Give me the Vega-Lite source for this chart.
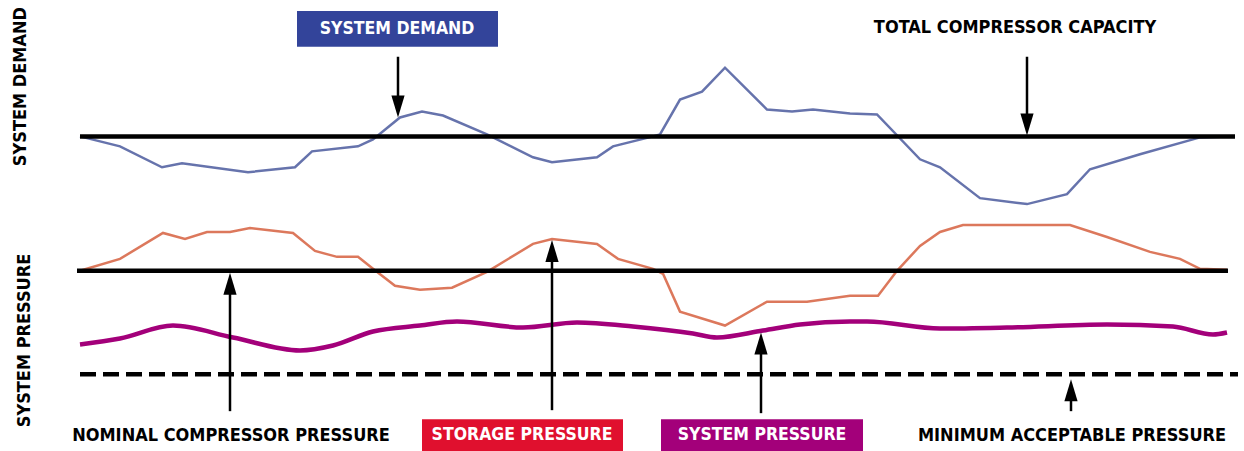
{
  "$schema": "https://vega.github.io/schema/vega-lite/v6.json",
  "autosize": {"type": "fit", "contains": "padding"},
  "width": 1244,
  "height": 451,
  "padding": 0,
  "background": "white",
  "config": {"view": {"stroke": null}},
  "datasets": {
    "demand": [
      {"x": 80, "y": 137}, {"x": 120, "y": 147}, {"x": 162, "y": 168}, {"x": 182, "y": 164}, {"x": 248, "y": 173},
      {"x": 295, "y": 168}, {"x": 312, "y": 152}, {"x": 358, "y": 147}, {"x": 373, "y": 140}, {"x": 400, "y": 118},
      {"x": 422, "y": 112}, {"x": 443, "y": 116}, {"x": 487, "y": 135}, {"x": 533, "y": 158}, {"x": 552, "y": 163},
      {"x": 597, "y": 158}, {"x": 613, "y": 147}, {"x": 653, "y": 137}, {"x": 660, "y": 135}, {"x": 680, "y": 100},
      {"x": 702, "y": 92}, {"x": 725, "y": 68}, {"x": 767, "y": 110}, {"x": 792, "y": 112}, {"x": 813, "y": 110},
      {"x": 850, "y": 114}, {"x": 877, "y": 115}, {"x": 920, "y": 160}, {"x": 940, "y": 168}, {"x": 980, "y": 199},
      {"x": 1027, "y": 205}, {"x": 1067, "y": 195}, {"x": 1090, "y": 170}, {"x": 1140, "y": 155}, {"x": 1200, "y": 138},
      {"x": 1227, "y": 137}
    ],
    "storage": [
      {"x": 80, "y": 272}, {"x": 120, "y": 260}, {"x": 163, "y": 234}, {"x": 185, "y": 240}, {"x": 207, "y": 233},
      {"x": 230, "y": 233}, {"x": 250, "y": 229}, {"x": 293, "y": 234}, {"x": 315, "y": 252}, {"x": 337, "y": 258},
      {"x": 358, "y": 258}, {"x": 373, "y": 270}, {"x": 395, "y": 287}, {"x": 420, "y": 291}, {"x": 452, "y": 289},
      {"x": 487, "y": 273}, {"x": 533, "y": 245}, {"x": 552, "y": 240}, {"x": 597, "y": 245}, {"x": 618, "y": 260},
      {"x": 653, "y": 270}, {"x": 663, "y": 275}, {"x": 680, "y": 313}, {"x": 725, "y": 327}, {"x": 767, "y": 303},
      {"x": 807, "y": 303}, {"x": 850, "y": 297}, {"x": 878, "y": 297}, {"x": 897, "y": 272}, {"x": 920, "y": 247},
      {"x": 940, "y": 233}, {"x": 963, "y": 226}, {"x": 1070, "y": 226}, {"x": 1107, "y": 238}, {"x": 1150, "y": 253},
      {"x": 1180, "y": 260}, {"x": 1200, "y": 270}, {"x": 1227, "y": 271}
    ],
    "syspressure": [
      {"x": 80, "y": 346}, {"x": 120, "y": 340}, {"x": 173, "y": 327}, {"x": 233, "y": 339}, {"x": 300, "y": 352},
      {"x": 333, "y": 347}, {"x": 373, "y": 333}, {"x": 420, "y": 327}, {"x": 457, "y": 323}, {"x": 523, "y": 329},
      {"x": 577, "y": 324}, {"x": 633, "y": 328}, {"x": 693, "y": 335}, {"x": 717, "y": 339}, {"x": 763, "y": 332},
      {"x": 800, "y": 326}, {"x": 850, "y": 323}, {"x": 867, "y": 323}, {"x": 940, "y": 330}, {"x": 1007, "y": 329},
      {"x": 1107, "y": 326}, {"x": 1173, "y": 328}, {"x": 1213, "y": 336}, {"x": 1227, "y": 334}
    ],
    "solidlines": [
      {"x": 80, "x2": 1235, "y": 137},
      {"x": 77, "x2": 1228, "y": 272}
    ],
    "dashline": [
      {"x": 80, "x2": 1238, "y": 376}
    ],
    "shafts": [
      {"x": 398, "y": 57, "y2": 110},
      {"x": 1027, "y": 57, "y2": 128},
      {"x": 230, "y": 285, "y2": 413},
      {"x": 552, "y": 252, "y2": 412},
      {"x": 761, "y": 345, "y2": 415},
      {"x": 1071, "y": 392, "y2": 413}
    ],
    "headsdown": [
      {"x": 398, "y": 107},
      {"x": 1027, "y": 125}
    ],
    "headsup": [
      {"x": 230, "y": 285},
      {"x": 552, "y": 252},
      {"x": 761, "y": 345},
      {"x": 1071, "y": 392}
    ],
    "boxes": [
      {"x": 297, "x2": 498, "y": 11, "y2": 47, "kind": "demand", "label": "SYSTEM DEMAND", "cx": 397, "cy": 29},
      {"x": 422, "x2": 623, "y": 421, "y2": 453, "kind": "storage", "label": "STORAGE PRESSURE", "cx": 522, "cy": 437},
      {"x": 661, "x2": 863, "y": 421, "y2": 453, "kind": "system", "label": "SYSTEM PRESSURE", "cx": 762, "cy": 437}
    ],
    "captions": [
      {"x": 1015, "y": 28, "label": "TOTAL COMPRESSOR CAPACITY"},
      {"x": 231, "y": 438, "label": "NOMINAL COMPRESSOR PRESSURE"},
      {"x": 1072, "y": 438, "label": "MINIMUM ACCEPTABLE PRESSURE"}
    ],
    "sidelabels": [
      {"x": 21, "y": 87, "label": "SYSTEM DEMAND"},
      {"x": 25, "y": 342, "label": "SYSTEM PRESSURE"}
    ]
  },
  "encoding": {
    "x": {"field": "x", "type": "quantitative", "scale": {"domain": [0, 1244], "nice": false, "zero": false}, "axis": null},
    "y": {"field": "y", "type": "quantitative", "scale": {"domain": [0, 451], "nice": false, "zero": false, "reverse": true}, "axis": null}
  },
  "layer": [
    {
      "data": {"name": "boxes"},
      "mark": {"type": "rect"},
      "encoding": {
        "x2": {"field": "x2"},
        "y2": {"field": "y2"},
        "color": {"field": "kind", "type": "nominal", "legend": null,
          "scale": {"domain": ["demand", "storage", "system"], "range": ["#33449a", "#e0102e", "#a3007a"]}}
      }
    },
    {
      "data": {"name": "boxes"},
      "mark": {"type": "text", "color": "white", "font": "DejaVu Sans Condensed, sans-serif", "fontWeight": "bold", "fontSize": 17.5, "align": "center", "baseline": "middle"},
      "encoding": {
        "x": {"field": "cx", "type": "quantitative"},
        "y": {"field": "cy", "type": "quantitative"},
        "text": {"field": "label"}
      }
    },
    {
      "data": {"name": "captions"},
      "mark": {"type": "text", "color": "black", "font": "DejaVu Sans Condensed, sans-serif", "fontWeight": "bold", "fontSize": 18, "align": "center", "baseline": "middle"},
      "encoding": {"text": {"field": "label"}}
    },
    {
      "data": {"name": "sidelabels"},
      "mark": {"type": "text", "color": "black", "angle": 270, "font": "DejaVu Sans Condensed, sans-serif", "fontWeight": "bold", "fontSize": 18, "align": "center", "baseline": "middle"},
      "encoding": {"text": {"field": "label"}}
    },
    {
      "data": {"name": "demand"},
      "mark": {"type": "line", "color": "#5564a3", "strokeWidth": 2.5, "opacity": 0.9},
      "encoding": {"order": {"field": "x", "type": "quantitative"}}
    },
    {
      "data": {"name": "storage"},
      "mark": {"type": "line", "color": "#d8694a", "strokeWidth": 2.5, "opacity": 0.9},
      "encoding": {"order": {"field": "x", "type": "quantitative"}}
    },
    {
      "data": {"name": "syspressure"},
      "mark": {"type": "line", "color": "#a3007a", "strokeWidth": 4.5, "interpolate": "monotone"},
      "encoding": {"order": {"field": "x", "type": "quantitative"}}
    },
    {
      "data": {"name": "solidlines"},
      "mark": {"type": "rule", "color": "black", "strokeWidth": 4.5},
      "encoding": {"x2": {"field": "x2"}}
    },
    {
      "data": {"name": "dashline"},
      "mark": {"type": "rule", "color": "black", "strokeWidth": 4.5, "strokeDash": [16, 7]},
      "encoding": {"x2": {"field": "x2"}}
    },
    {
      "data": {"name": "shafts"},
      "mark": {"type": "rule", "color": "black", "strokeWidth": 2.5},
      "encoding": {"y2": {"field": "y2"}}
    },
    {
      "data": {"name": "headsdown"},
      "mark": {"type": "point", "filled": true, "color": "black", "opacity": 1, "size": 484, "strokeWidth": 0, "shape": "M-0.6,-1L0.6,-1L0,1Z"},
      "encoding": {}
    },
    {
      "data": {"name": "headsup"},
      "mark": {"type": "point", "filled": true, "color": "black", "opacity": 1, "size": 484, "strokeWidth": 0, "shape": "M-0.6,1L0.6,1L0,-1Z"},
      "encoding": {}
    }
  ]
}
